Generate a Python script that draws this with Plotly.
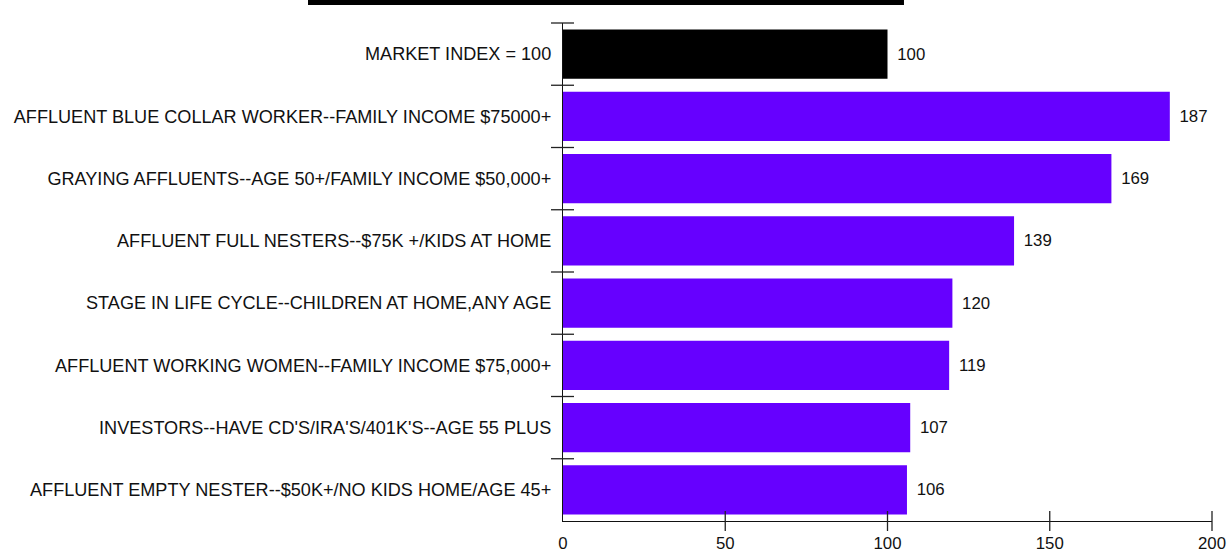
import plotly.graph_objects as go

# Segment index data (market index = 100)
categories = [
    "MARKET INDEX = 100",
    "AFFLUENT BLUE COLLAR WORKER--FAMILY INCOME $75000+",
    "GRAYING AFFLUENTS--AGE 50+/FAMILY INCOME $50,000+",
    "AFFLUENT FULL NESTERS--$75K +/KIDS AT HOME",
    "STAGE IN LIFE CYCLE--CHILDREN AT HOME,ANY AGE",
    "AFFLUENT WORKING WOMEN--FAMILY INCOME $75,000+",
    "INVESTORS--HAVE CD'S/IRA'S/401K'S--AGE 55 PLUS",
    "AFFLUENT EMPTY NESTER--$50K+/NO KIDS HOME/AGE 45+",
]
index_values = [100, 187, 169, 139, 120, 119, 107, 106]
x_tick_values = [0, 50, 100, 150, 200]
x_max = 200

BASE_COLOR = "#000000"
SEGMENT_COLOR = "#6600FF"
bar_colors = [BASE_COLOR] + [SEGMENT_COLOR] * (len(categories) - 1)

FONT = "Liberation Sans, Arial, sans-serif"
TICK_COLOR = "#222222"

fig = go.Figure(
    go.Bar(
        x=index_values,
        y=categories,
        orientation="h",
        marker=dict(color=bar_colors, line=dict(width=0)),
        text=[f"\u2009\u2009{v}" for v in index_values],
        textposition="outside",
        textfont=dict(family=FONT, size=16.8, color="#111111"),
        cliponaxis=False,
        hoverinfo="x+y",
    )
)

n = len(categories)
shapes = []
# crossing tick marks on the category axis, at the boundaries between rows
for k in range(1, n + 1):
    yb = k / n
    shapes.append(dict(
        type="line", xref="paper", yref="paper",
        xsizemode="pixel", xanchor=0, x0=-12, x1=11,
        y0=yb, y1=yb,
        line=dict(color=TICK_COLOR, width=1.3), layer="above",
    ))
# crossing tick marks on the value axis
for v in x_tick_values[1:]:
    xp = v / x_max
    shapes.append(dict(
        type="line", xref="paper", yref="paper",
        ysizemode="pixel", yanchor=0, y0=-10, y1=10,
        x0=xp, x1=xp,
        line=dict(color=TICK_COLOR, width=1.3), layer="above",
    ))
# heading rule along the top edge
shapes.append(dict(
    type="rect", xref="paper", yref="paper",
    x0=-0.3929, x1=0.5254, y0=1.0361, y1=1.047,
    fillcolor="#000000", line=dict(width=0), layer="above",
))

fig.update_layout(
    width=1232,
    height=558,
    margin=dict(l=563, r=20, t=23, b=37, autoexpand=False),
    paper_bgcolor="white",
    plot_bgcolor="white",
    bargap=0.21,
    showlegend=False,
    font=dict(family=FONT, color="#111111"),
    shapes=shapes,
    xaxis=dict(
        range=[0, x_max],
        tickvals=x_tick_values,
        ticks="outside",
        ticklen=7,
        tickcolor="rgba(0,0,0,0)",
        showgrid=False,
        zeroline=False,
        showline=True,
        linecolor="#111111",
        linewidth=1.3,
        automargin=False,
        tickfont=dict(family=FONT, size=16.8, color="#111111"),
        fixedrange=True,
    ),
    yaxis=dict(
        categoryorder="array",
        categoryarray=categories,
        range=[n - 0.5, -0.5],
        ticks="outside",
        ticklen=7,
        tickcolor="rgba(0,0,0,0)",
        showgrid=False,
        zeroline=False,
        showline=True,
        linecolor="#111111",
        linewidth=1.3,
        automargin=False,
        tickfont=dict(family=FONT, size=18.1, color="#111111"),
        fixedrange=True,
    ),
)

fig.write_html("out.html")
